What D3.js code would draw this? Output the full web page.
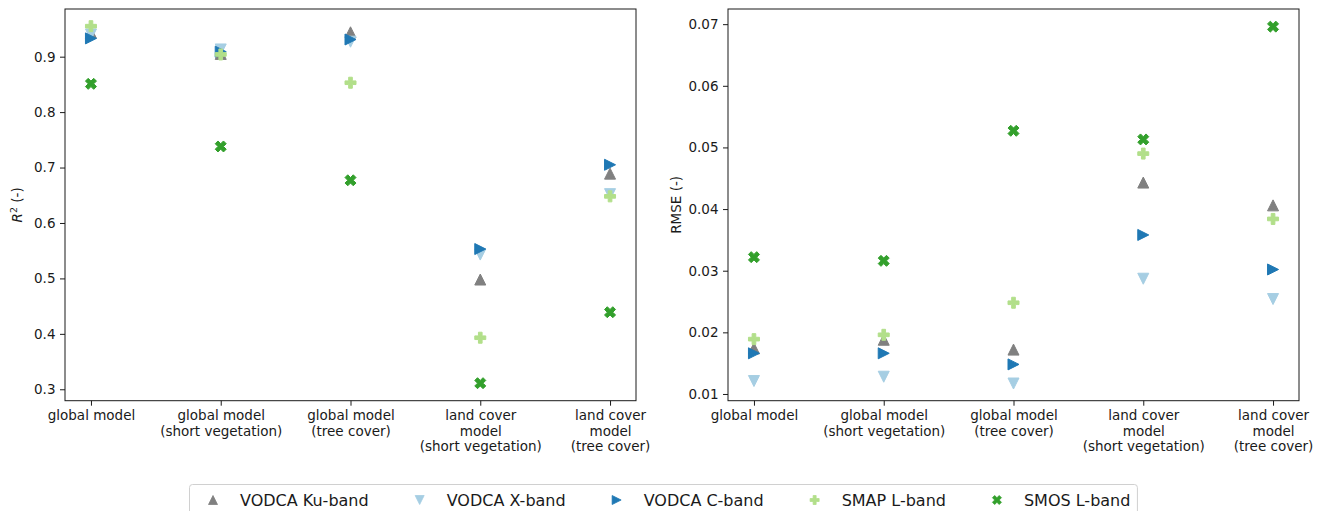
<!DOCTYPE html>
<html lang="en">
    <head>
        <meta charset="UTF-8">
        <title>R2 and RMSE per model</title>
        <script src="https://d3js.org/d3.v7.min.js"></script>
        <style>
            body { margin: 0; padding: 0; background: #fff; overflow: hidden; }
            svg { display: block; font-family: "DejaVu Sans", sans-serif; }
            .tick text { font-family: "DejaVu Sans", sans-serif; font-size: 13.5px; fill: #1a1a1a; }
            .tick line, .domain { stroke: #1a1a1a; }
        </style>
    </head>
    <body>
        <svg id="chart" width="1325" height="511"></svg>

        <script>
            // categories on the x axis (line breaks as in the original labels)
            const categories = [
                "global model",
                "global model\n(short vegetation)",
                "global model\n(tree cover)",
                "land cover\nmodel\n(short vegetation)",
                "land cover\nmodel\n(tree cover)"
            ];

            const seriesNames = ["VODCA Ku-band", "VODCA X-band", "VODCA C-band", "SMAP L-band", "SMOS L-band"];
            const seriesColors = ["#808080", "#a6cee3", "#1f78b4", "#b2df8a", "#33a02c"];
            const seriesMarkers = ["up", "down", "right", "plus", "cross"];

            // R2 (-)
            const r2Ku   = [0.943, 0.905, 0.944, 0.498, 0.689];
            const r2X    = [0.940, 0.913, 0.927, 0.543, 0.652];
            const r2C    = [0.933, 0.909, 0.931, 0.553, 0.705];
            const r2Smap = [0.955, 0.904, 0.853, 0.393, 0.648];
            const r2Smos = [0.851, 0.738, 0.677, 0.311, 0.439];

            // RMSE (-)
            const rmseKu   = [0.0174, 0.0188, 0.0172, 0.0443, 0.0406];
            const rmseX    = [0.0121, 0.0128, 0.0117, 0.0287, 0.0254];
            const rmseC    = [0.0166, 0.0166, 0.0148, 0.0358, 0.0302];
            const rmseSmap = [0.0189, 0.0196, 0.0248, 0.0490, 0.0384];
            const rmseSmos = [0.0322, 0.0316, 0.0527, 0.0513, 0.0696];

            const r2Ticks = [0.3, 0.4, 0.5, 0.6, 0.7, 0.8, 0.9];
            const rmseTicks = [0.01, 0.02, 0.03, 0.04, 0.05, 0.06, 0.07];

            const svg = d3.select("#chart");
            const plotTop = 9, plotBottom = 400.7;

            // marker shapes, unit size s (px)
            function markerPath(kind, s) {
                const h = s / 2;
                const p = d3.path();
                let pts;
                if (kind === "up") pts = [[0, -h], [-h, h], [h, h]];
                else if (kind === "down") pts = [[0, h], [-h, -h], [h, -h]];
                else if (kind === "right") pts = [[h, 0], [-h, -h], [-h, h]];
                else if (kind === "plus") {
                    pts = [[-1, -3], [-1, -1], [-3, -1], [-3, 1], [-1, 1], [-1, 3], [1, 3], [1, 1], [3, 1], [3, -1], [1, -1], [1, -3]]
                        .map(d => [d[0] * s / 6, d[1] * s / 6]);
                } else {
                    pts = [[-1, -2], [0, -1], [1, -2], [2, -1], [1, 0], [2, 1], [1, 2], [0, 1], [-1, 2], [-2, 1], [-1, 0], [-2, -1]]
                        .map(d => [d[0] * s / 4, d[1] * s / 4]);
                }
                p.moveTo(pts[0][0], pts[0][1]);
                pts.slice(1).forEach(d => p.lineTo(d[0], d[1]));
                p.closePath();
                return p.toString();
            }

            function drawPanel(opts) {
                const x = d3.scalePoint().domain(categories).range([opts.x0, opts.x1]).padding(0.2);
                const y = d3.scaleLinear().domain(opts.domain).range([plotBottom, plotTop]);
                const g = svg.append("g");

                // points, drawn in series order so later ones sit on top
                opts.series.forEach((vals, si) => {
                    g.append("g").selectAll("path")
                        .data(vals)
                        .enter().append("path")
                        .attr("d", markerPath(seriesMarkers[si], 11))
                        .attr("transform", (d, i) => `translate(${x(categories[i])},${y(d)})`)
                        .attr("fill", seriesColors[si])
                        .attr("stroke", seriesColors[si])
                        .attr("stroke-width", 1)
                        .attr("stroke-linejoin", "round");
                });

                // frame
                g.append("rect")
                    .attr("x", opts.x0).attr("y", plotTop)
                    .attr("width", opts.x1 - opts.x0).attr("height", plotBottom - plotTop)
                    .attr("fill", "none").attr("stroke", "#1a1a1a").attr("stroke-width", 1);

                const yAxis = g.append("g")
                    .attr("transform", `translate(${opts.x0},0)`)
                    .call(d3.axisLeft(y).tickValues(opts.ticks).tickFormat(d3.format(opts.fmt)).tickSize(5).tickPadding(4.5));
                yAxis.select(".domain").remove();

                const xAxis = g.append("g")
                    .attr("transform", `translate(0,${plotBottom})`)
                    .call(d3.axisBottom(x).tickSize(5).tickPadding(4.5));
                xAxis.select(".domain").remove();
                xAxis.selectAll(".tick text").each(function(d) {
                    const t = d3.select(this);
                    t.text(null);
                    d.split("\n").forEach((line, i) => {
                        t.append("tspan").attr("x", 0).attr("dy", i === 0 ? "0.71em" : "1.17em").text(line);
                    });
                });

                // y label
                const lab = g.append("text")
                    .attr("transform", `translate(${opts.labelX},${(plotTop + plotBottom) / 2}) rotate(-90)`)
                    .attr("text-anchor", "middle")
                    .attr("font-size", 13.5)
                    .attr("fill", "#1a1a1a");
                opts.label(lab);
            }

            drawPanel({
                x0: 65, x1: 636,
                domain: [0.2794, 0.986],
                ticks: r2Ticks, fmt: ".1f",
                series: [r2Ku, r2X, r2C, r2Smap, r2Smos],
                labelX: 22,
                label: t => {
                    t.append("tspan").attr("font-style", "italic").text("R");
                    t.append("tspan").attr("font-size", 9.5).attr("dy", -5).text("2");
                    t.append("tspan").attr("dy", 5).text(" (-)");
                }
            });

            drawPanel({
                x0: 728, x1: 1299,
                domain: [0.00891, 0.07246],
                ticks: rmseTicks, fmt: ".2f",
                series: [rmseKu, rmseX, rmseC, rmseSmap, rmseSmos],
                labelX: 681,
                label: t => t.text("RMSE (-)")
            });

            // legend
            const legend = svg.append("g");
            const box = legend.append("rect")
                .attr("x", 189.5).attr("y", 484.5).attr("height", 40).attr("rx", 3)
                .attr("fill", "#fff").attr("stroke", "#d0d0d0").attr("stroke-width", 1);
            let cx = 213;
            seriesNames.forEach((name, i) => {
                legend.append("path")
                    .attr("d", markerPath(seriesMarkers[i], 9))
                    .attr("transform", `translate(${cx},500)`)
                    .attr("fill", seriesColors[i])
                    .attr("stroke", seriesColors[i]).attr("stroke-width", 0.8);
                const txt = legend.append("text")
                    .attr("x", cx + 27).attr("y", 505.8)
                    .attr("font-size", 16).attr("fill", "#1a1a1a")
                    .text(name);
                const w = txt.node().getComputedTextLength();
                cx = cx + 27 + w + 51;
            });
            box.attr("width", cx - 51 + 7 - 189.5);
        </script>
    </body>
</html>
